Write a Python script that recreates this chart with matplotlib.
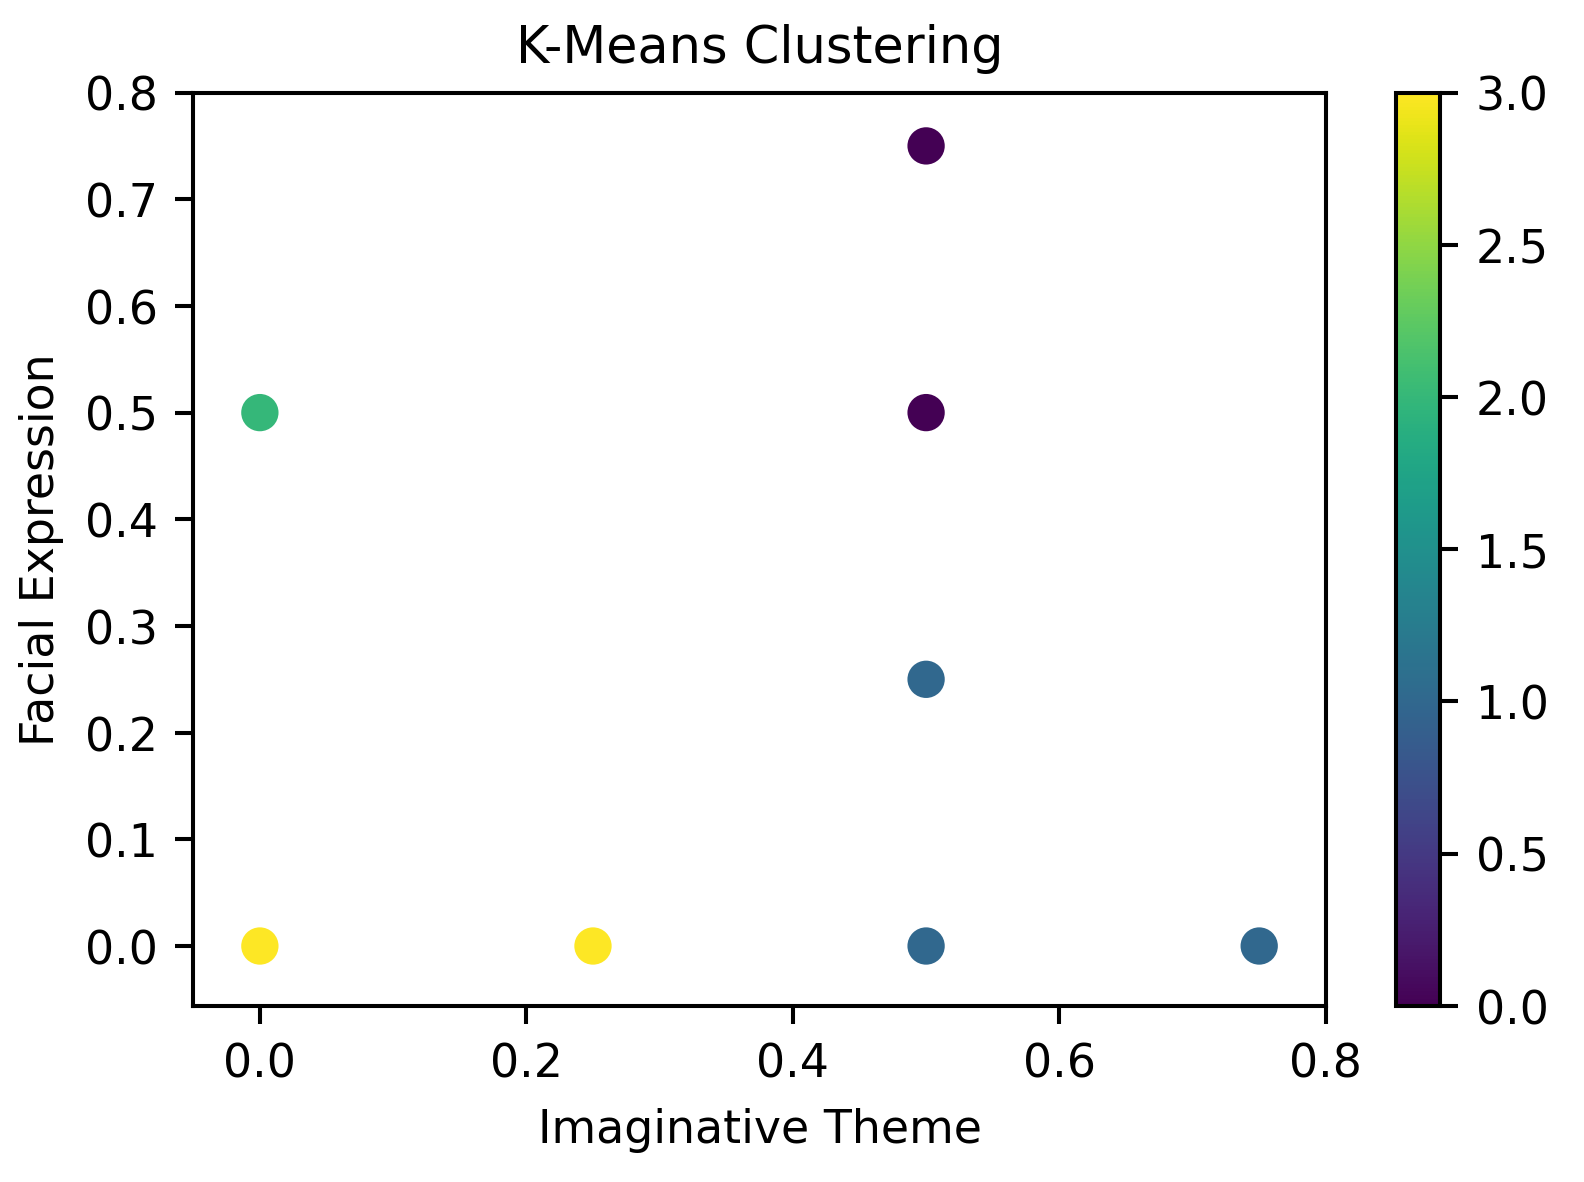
import matplotlib
matplotlib.use("Agg")
import matplotlib.pyplot as plt

# cluster data
imaginative_theme = [0.5, 0.0, 0.5, 0.5, 0.0, 0.25, 0.5, 0.75]
facial_expression = [0.75, 0.5, 0.5, 0.25, 0.0, 0.0, 0.0, 0.0]
cluster_labels = [0, 2, 0, 1, 3, 3, 1, 1]

plt.rc('font', size=9)
fig = plt.figure(figsize=(4.32, 3.226), dpi=366.67)
ax = fig.add_axes([0.122, 0.149, 0.715, 0.772])
cax = fig.add_axes([0.881, 0.149, 0.028, 0.772])

sc = ax.scatter(imaginative_theme, facial_expression, c=cluster_labels, cmap='viridis', s=40)
ax.set_xlim(-0.05, 0.8)
ax.set_ylim(-0.056, 0.8)
ax.set_xticks([0.0, 0.2, 0.4, 0.6, 0.8])
ax.set_yticks([0.0, 0.1, 0.2, 0.3, 0.4, 0.5, 0.6, 0.7, 0.8])
ax.set_title('K-Means Clustering', fontsize=10)
ax.set_xlabel('Imaginative Theme')
ax.set_ylabel('Facial Expression')
fig.colorbar(sc, cax=cax)

plt.savefig('out.png')
